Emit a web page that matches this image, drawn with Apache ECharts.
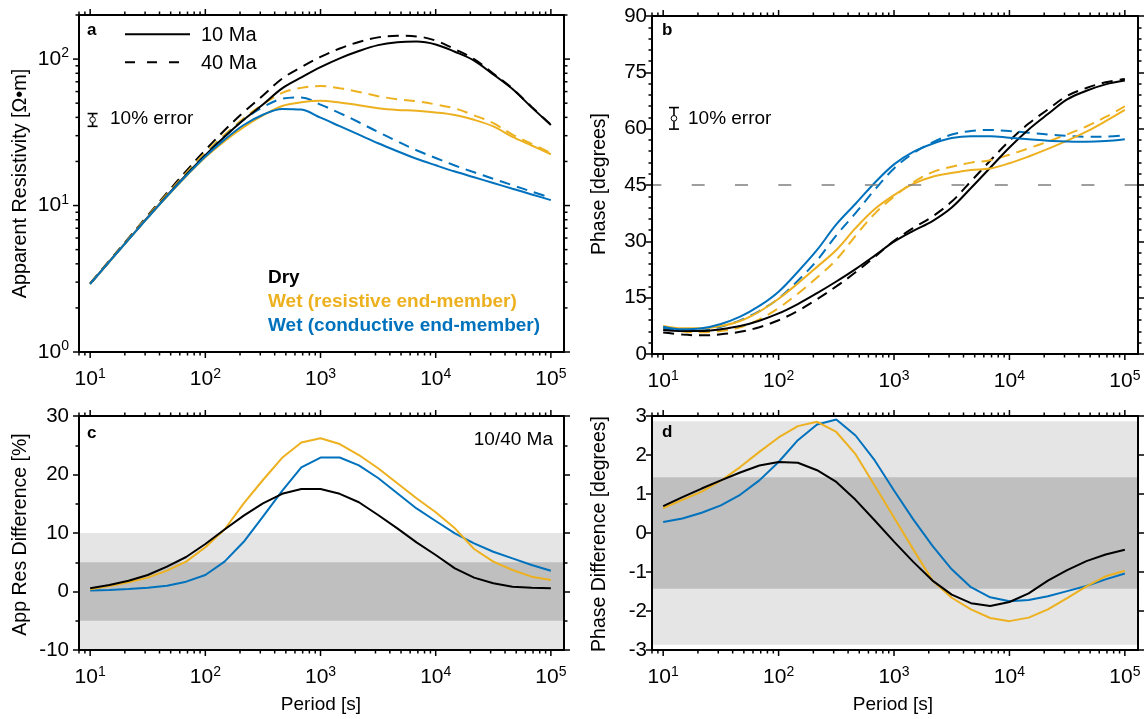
<!DOCTYPE html>
<html>
<head>
<meta charset="utf-8">
<script src="https://cdn.jsdelivr.net/npm/echarts@6/dist/echarts.min.js"></script>
<style>
html, body { margin: 0; padding: 0; background: #fff; }
#chart { width: 1146px; height: 719px; }
</style>
</head>
<body>
<div id="chart"></div>
<script>
// Sampling periods [s], six per decade from 10 s to 1e5 s
const periods = [10, 14.68, 21.54, 31.62, 46.42, 68.13, 100, 146.8, 215.4, 316.2, 464.2, 681.3,
  1000, 1468, 2154, 3162, 4642, 6813, 10000, 14678, 21544, 31623, 46416, 68129, 100000];

// Apparent resistivity [ohm m]
const resDry10  = [2.92, 4.15, 5.87, 8.32, 11.7, 16.2, 22.1, 29.5, 38.5, 49.0, 63.1, 75.0, 88.1, 101.2, 113.5, 124.5, 130.3, 131.8, 125.9, 112.2, 97.7, 78.5, 62.4, 46.8, 35.5];
const resDry40  = [2.94, 4.20, 5.98, 8.55, 12.19, 17.18, 23.93, 32.65, 43.45, 56.4, 73.6, 88.1, 103.5, 118.1, 130.9, 140.7, 144.3, 142.9, 133.8, 116.7, 100.0, 79.6, 62.9, 47.1, 35.7];
const resWetR10 = [2.92, 4.14, 5.86, 8.26, 11.53, 15.85, 21.38, 27.54, 34.28, 41.21, 47.86, 50.7, 51.9, 50.5, 48.4, 46.1, 44.9, 44.4, 43.2, 41.5, 38.5, 34.7, 29.4, 25.7, 22.4];
const resWetR40 = [2.93, 4.18, 5.95, 8.46, 11.94, 16.66, 23.0, 30.46, 39.45, 49.06, 58.8, 63.6, 65.5, 63.2, 59.7, 55.8, 53.2, 51.5, 49.0, 46.0, 41.3, 36.5, 30.5, 26.4, 22.8];
const resWetC10 = [2.92, 4.14, 5.86, 8.26, 11.56, 15.96, 21.63, 28.18, 35.48, 41.69, 45.71, 45.19, 39.81, 34.83, 30.48, 26.61, 23.5, 20.89, 18.84, 17.06, 15.6, 14.26, 13.03, 11.91, 10.89];
const resWetC40 = [2.92, 4.15, 5.89, 8.31, 11.67, 16.23, 22.24, 29.62, 38.5, 47.02, 53.57, 54.77, 48.93, 42.81, 37.05, 31.77, 27.45, 23.86, 21.11, 18.76, 16.88, 15.23, 13.77, 12.45, 11.28];

// Phase [degrees]
const phDry10  = [6.4, 6.1, 6.1, 6.6, 7.45, 8.87, 10.8, 13.3, 16.2, 19.3, 22.6, 26.2, 29.9, 32.8, 35.4, 39.0, 44.2, 49.6, 55.0, 59.8, 63.9, 67.8, 70.1, 71.8, 72.8];
const phDry40  = [5.71, 5.18, 4.96, 5.25, 5.9, 7.14, 8.98, 11.5, 14.59, 17.99, 21.75, 25.88, 30.12, 33.54, 36.62, 40.58, 46.0, 51.47, 56.77, 61.35, 65.12, 68.75, 70.82, 72.35, 73.23];
const phWetR10 = [7.45, 6.83, 6.83, 7.45, 8.79, 11.3, 14.7, 18.8, 23.2, 27.7, 33.5, 38.6, 42.3, 45.3, 47.2, 48.2, 49.0, 49.4, 50.8, 52.6, 54.6, 56.8, 59.2, 62.0, 65.0];
const phWetR40 = [6.81, 5.98, 5.77, 6.11, 7.1, 9.22, 12.25, 16.06, 20.35, 25.11, 31.48, 37.39, 41.9, 45.72, 48.42, 49.86, 50.96, 51.58, 53.06, 54.77, 56.56, 58.47, 60.57, 63.11, 65.97];
const phWetC10 = [7.28, 6.57, 6.83, 7.98, 9.94, 12.8, 16.6, 21.9, 27.7, 34.5, 40.0, 45.6, 50.5, 53.8, 56.0, 57.5, 58.0, 58.0, 57.6, 57.2, 56.8, 56.6, 56.5, 56.7, 57.2];
const phWetC40 = [7.0, 6.2, 6.31, 7.27, 8.96, 11.45, 14.78, 19.52, 24.92, 31.59, 37.5, 43.74, 49.41, 53.45, 56.33, 58.43, 59.39, 59.65, 59.35, 58.92, 58.42, 58.09, 57.86, 57.89, 58.24];

// 10 Ma vs 40 Ma differences
const resDiffDry  = [0.55, 1.11, 1.85, 2.82, 4.24, 5.90, 8.12, 10.6, 12.96, 15.07, 16.7, 17.52, 17.52, 16.7, 15.25, 13.08, 10.8, 8.4, 6.24, 3.96, 2.37, 1.4, 0.83, 0.66, 0.55];
const resDiffWetR = [0.38, 0.94, 1.57, 2.37, 3.57, 5.11, 7.57, 10.6, 15.07, 19.06, 22.85, 25.47, 26.2, 25.2, 23.33, 21.06, 18.5, 15.93, 13.54, 10.8, 7.26, 5.1, 3.68, 2.54, 1.97];
const resDiffWetC = [0.15, 0.26, 0.43, 0.66, 0.99, 1.68, 2.82, 5.11, 8.5, 12.79, 17.2, 21.2, 22.9, 22.9, 21.55, 19.4, 16.8, 14.2, 12.05, 9.94, 8.23, 6.8, 5.67, 4.53, 3.56];
const phDiffDry  = [0.69, 0.92, 1.14, 1.35, 1.55, 1.73, 1.82, 1.80, 1.61, 1.31, 0.85, 0.32, -0.22, -0.74, -1.22, -1.58, -1.80, -1.87, -1.77, -1.55, -1.22, -0.95, -0.72, -0.55, -0.43];
const phDiffWetR = [0.64, 0.85, 1.06, 1.34, 1.69, 2.08, 2.45, 2.74, 2.85, 2.59, 2.02, 1.21, 0.40, -0.42, -1.22, -1.66, -1.96, -2.18, -2.26, -2.17, -1.96, -1.67, -1.37, -1.11, -0.97];
const phDiffWetC = [0.28, 0.37, 0.52, 0.71, 0.98, 1.35, 1.82, 2.38, 2.78, 2.91, 2.5, 1.86, 1.09, 0.35, -0.33, -0.93, -1.39, -1.65, -1.75, -1.72, -1.62, -1.49, -1.36, -1.19, -1.04];

// Error envelopes: 10 % and 5 % in resistivity, the matching phase errors
const resBands = [[-10, 10], [-5, 5]];
const phBands = [[-2.865, 2.865], [-1.432, 1.432]];

// 10 % error glyphs: [period, centre, low, high]
const errRes = [[10.5, 38.6, 34.74, 42.46]];
const errPh = [[12.4, 62.75, 59.885, 65.615]];

// Axis ranges
const periodRange = [8, 130000];
const resRange = [1, 200];

const FONT = '"Liberation Sans", Arial, Helvetica, sans-serif';
const BLACK = '#000000';
const ORANGE = '#EDB120';
const BLUE = '#0072BD';
const LIGHT = '#e5e5e5';
const DARK = '#bfbfbf';

// log ticks: 1 = minor, 2 = major
function logTicks(lo, hi) {
  const out = [];
  const e0 = Math.floor(Math.log10(lo)), e1 = Math.ceil(Math.log10(hi));
  for (let e = e0; e <= e1; e++) {
    for (let m = 1; m <= 9; m++) {
      const v = m * Math.pow(10, e);
      if (v >= lo * 0.999 && v <= hi * 1.001) out.push([v, m === 1 ? 2 : 1]);
    }
  }
  return out;
}
const xTickList = logTicks(periodRange[0], periodRange[1]);
const yTickListRes = logTicks(resRange[0], resRange[1]);

const grids = [
  { left: 79, top: 15, width: 485, height: 337 },
  { left: 652, top: 16, width: 486, height: 338 },
  { left: 79, top: 416, width: 485, height: 234 },
  { left: 652, top: 416, width: 486, height: 234 }
];

function powLabel(v) {
  const e = Math.round(Math.log10(v));
  if (Math.abs(v - Math.pow(10, e)) > 1e-6 * v) return '';
  return '{b|10}{s|' + e + '}';
}
const powRich = {
  b: { fontSize: 21, fontFamily: FONT, color: BLACK },
  s: { fontSize: 14, fontFamily: FONT, color: BLACK, padding: [0, 0, 11, 0] }
};
const axisLine = { show: true, onZero: false, lineStyle: { color: BLACK, width: 2 } };

const xAxes = [];
const yAxes = [];
for (let i = 0; i < 4; i++) {
  xAxes.push({
    type: 'log', logBase: 10, gridIndex: i, min: periodRange[0], max: periodRange[1],
    position: 'bottom', z: 6, axisLine,
    axisTick: { show: false }, splitLine: { show: false },
    axisLabel: { formatter: powLabel, rich: powRich, margin: 15 }
  });
}
for (let i = 0; i < 4; i++) {
  xAxes.push({
    type: 'log', logBase: 10, gridIndex: i, min: periodRange[0], max: periodRange[1],
    position: 'top', z: 6, axisLine,
    axisTick: { show: false }, splitLine: { show: false }, axisLabel: { show: false }
  });
}
const tickStyle = { color: BLACK, width: 1.5 };
const numLabel = { fontSize: 20.5, fontFamily: FONT, color: BLACK };
const leftY = [
  { type: 'log', logBase: 10, min: resRange[0], max: resRange[1],
    axisTick: { show: false },
    axisLabel: { formatter: powLabel, rich: powRich, margin: 10 } },
  { type: 'value', min: 0, max: 90, interval: 15,
    axisTick: { show: true, length: 6, lineStyle: tickStyle },
    minorTick: { show: true, splitNumber: 5, length: 3.5, lineStyle: tickStyle },
    axisLabel: Object.assign({ margin: 5 }, numLabel) },
  { type: 'value', min: -10, max: 30, interval: 10,
    axisTick: { show: true, length: 6, lineStyle: tickStyle },
    minorTick: { show: true, splitNumber: 2, length: 3.5, lineStyle: tickStyle },
    axisLabel: Object.assign({ margin: 10 }, numLabel) },
  { type: 'value', min: -3, max: 3, interval: 1,
    axisTick: { show: true, length: 6, lineStyle: tickStyle },
    axisLabel: Object.assign({ margin: 5 }, numLabel) }
];
leftY.forEach((y, i) => yAxes.push(Object.assign({ gridIndex: i, position: 'left', z: 6, axisLine, splitLine: { show: false } }, y)));
leftY.forEach((y, i) => yAxes.push(Object.assign({}, y, {
  gridIndex: i, position: 'right', z: 6, axisLine, splitLine: { show: false }, axisLabel: { show: false }
})));

function curve(gi, ys, color, dashed, smooth) {
  return {
    type: 'line', xAxisIndex: gi, yAxisIndex: gi, silent: true, z: 3,
    data: periods.map((p, i) => [p, ys[i]]),
    symbol: 'none', smooth: smooth ? 0.35 : false,
    lineStyle: { color, width: 2, type: dashed ? [11, 7] : 'solid' }
  };
}

// outward tick marks on the log axes, drawn on both sides of the frame
function xTickSeries(gi) {
  return {
    type: 'custom', xAxisIndex: gi, yAxisIndex: gi, silent: true, z: 7, clip: false,
    data: xTickList, encode: { x: 0, y: 1 },
    renderItem(params, api) {
      const cs = params.coordSys;
      const x = api.coord([api.value(0), api.value(1)])[0];
      const len = api.value(1) === 2 ? 6 : 3.5;
      const style = { stroke: BLACK, lineWidth: 1.5 };
      return { type: 'group', children: [
        { type: 'line', shape: { x1: x, y1: cs.y + cs.height, x2: x, y2: cs.y + cs.height + len }, style },
        { type: 'line', shape: { x1: x, y1: cs.y, x2: x, y2: cs.y - len }, style }
      ] };
    }
  };
}
function yLogTickSeries(gi) {
  return {
    type: 'custom', xAxisIndex: gi, yAxisIndex: gi, silent: true, z: 7, clip: false,
    data: yTickListRes, encode: { x: 1, y: 0 },
    renderItem(params, api) {
      const cs = params.coordSys;
      const y = api.coord([api.value(1) * 10, api.value(0)])[1];
      const len = api.value(1) === 2 ? 6 : 3.5;
      const style = { stroke: BLACK, lineWidth: 1.5 };
      return { type: 'group', children: [
        { type: 'line', shape: { x1: cs.x, y1: y, x2: cs.x - len, y2: y }, style },
        { type: 'line', shape: { x1: cs.x + cs.width, y1: y, x2: cs.x + cs.width + len, y2: y }, style }
      ] };
    }
  };
}
function errorGlyph(gi, rows) {
  return {
    type: 'custom', xAxisIndex: gi, yAxisIndex: gi, silent: true, z: 5,
    data: rows, encode: { x: 0, y: 1 },
    renderItem(params, api) {
      const x = api.value(0);
      const c = api.coord([x, api.value(1)]);
      const lo = api.coord([x, api.value(2)]);
      const hi = api.coord([x, api.value(3)]);
      const s = { stroke: BLACK, lineWidth: 1.6 };
      return { type: 'group', children: [
        { type: 'line', shape: { x1: c[0], y1: lo[1], x2: c[0], y2: hi[1] }, style: s },
        { type: 'line', shape: { x1: c[0] - 5, y1: lo[1], x2: c[0] + 5, y2: lo[1] }, style: s },
        { type: 'line', shape: { x1: c[0] - 5, y1: hi[1], x2: c[0] + 5, y2: hi[1] }, style: s },
        { type: 'circle', shape: { cx: c[0], cy: c[1], r: 2.8 }, style: { fill: '#fff', stroke: BLACK, lineWidth: 1 } }
      ] };
    }
  };
}
function bandSeries(gi, bands) {
  return {
    type: 'line', xAxisIndex: gi, yAxisIndex: gi, silent: true, z: 1, data: [],
    markArea: {
      silent: true,
      data: [
        [{ yAxis: bands[0][0], itemStyle: { color: LIGHT } }, { yAxis: bands[0][1] }],
        [{ yAxis: bands[1][0], itemStyle: { color: DARK } }, { yAxis: bands[1][1] }]
      ]
    }
  };
}

const series = [
  bandSeries(2, resBands),
  bandSeries(3, phBands),
  {
    type: 'line', xAxisIndex: 1, yAxisIndex: 1, silent: true, z: 1, data: [],
    markLine: {
      silent: true, symbol: 'none', label: { show: false },
      lineStyle: { color: '#7f7f7f', width: 1.5, type: [13, 30.3], dashOffset: 3.6 },
      data: [{ yAxis: 45 }]
    }
  },
  curve(0, resDry40, BLACK, true, true),
  curve(0, resWetR40, ORANGE, true, true),
  curve(0, resWetC40, BLUE, true, true),
  curve(0, resDry10, BLACK, false, true),
  curve(0, resWetR10, ORANGE, false, true),
  curve(0, resWetC10, BLUE, false, true),
  curve(1, phDry40, BLACK, true, true),
  curve(1, phWetR40, ORANGE, true, true),
  curve(1, phWetC40, BLUE, true, true),
  curve(1, phDry10, BLACK, false, true),
  curve(1, phWetR10, ORANGE, false, true),
  curve(1, phWetC10, BLUE, false, true),
  curve(2, resDiffWetC, BLUE, false, false),
  curve(2, resDiffWetR, ORANGE, false, false),
  curve(2, resDiffDry, BLACK, false, false),
  curve(3, phDiffWetC, BLUE, false, false),
  curve(3, phDiffWetR, ORANGE, false, false),
  curve(3, phDiffDry, BLACK, false, false),
  errorGlyph(0, errRes),
  errorGlyph(1, errPh),
  xTickSeries(0), xTickSeries(1), xTickSeries(2), xTickSeries(3),
  yLogTickSeries(0)
];

// text placed by baseline: 'middle' sits about 0.35 em above it
function txt(x, baseline, text, size, opts) {
  opts = opts || {};
  return {
    type: 'text', x, y: baseline - 0.35 * size, z: 20, silent: true,
    style: Object.assign({
      text, fontSize: size, fontFamily: FONT, fill: BLACK,
      fontWeight: opts.bold ? 'bold' : 'normal',
      textAlign: opts.align || 'left', textVerticalAlign: 'middle',
      align: opts.align || 'left', verticalAlign: 'middle'
    }, opts.style || {})
  };
}
function vtxt(cx, cy, text, size) {
  return {
    type: 'text', x: cx, y: cy, rotation: Math.PI / 2, z: 20, silent: true,
    style: { text, fontSize: size, fontFamily: FONT, fill: BLACK,
      textAlign: 'center', textVerticalAlign: 'middle', align: 'center', verticalAlign: 'middle' }
  };
}

const graphic = [
  txt(87, 36.7, 'a', 17, { bold: true }),
  txt(662, 36.7, 'b', 17, { bold: true }),
  txt(87, 439.3, 'c', 17, { bold: true }),
  txt(662, 438.3, 'd', 17, { bold: true }),
  { type: 'line', z: 20, silent: true, shape: { x1: 125, y1: 34.3, x2: 190, y2: 34.3 }, style: { stroke: BLACK, lineWidth: 2 } },
  { type: 'line', z: 20, silent: true, shape: { x1: 125, y1: 62.3, x2: 190, y2: 62.3 }, style: { stroke: BLACK, lineWidth: 2, lineDash: [10, 12] } },
  txt(201, 42.7, '10 Ma', 20),
  txt(201, 70, '40 Ma', 20),
  txt(110, 125, '10% error', 19),
  txt(688, 125, '10% error', 19),
  txt(268, 284, 'Dry', 19, { bold: true }),
  txt(268, 308, 'Wet (resistive end-member)', 19, { bold: true, style: { fill: ORANGE } }),
  txt(268, 332, 'Wet (conductive end-member)', 19, { bold: true, style: { fill: BLUE } }),
  txt(553, 446, '10/40 Ma', 19, { align: 'right' }),
  vtxt(20.5, 183.5, 'Apparent Resistivity [Ω•m]', 19.8),
  vtxt(599.5, 184, 'Phase [degrees]', 19.5),
  vtxt(20.5, 534.5, 'App Res Difference [%]', 19.5),
  vtxt(599.5, 534, 'Phase Difference [degrees]', 19.5),
  txt(321, 711, 'Period [s]', 19, { align: 'center' }),
  txt(893, 711, 'Period [s]', 19, { align: 'center' })
];

const chart = echarts.init(document.getElementById('chart'), null, { renderer: 'canvas', width: 1146, height: 719 });
chart.setOption({
  backgroundColor: '#ffffff',
  animation: false,
  grid: grids.map(g => Object.assign({ containLabel: false }, g)),
  xAxis: xAxes,
  yAxis: yAxes,
  series,
  graphic
});
</script>
</body>
</html>
